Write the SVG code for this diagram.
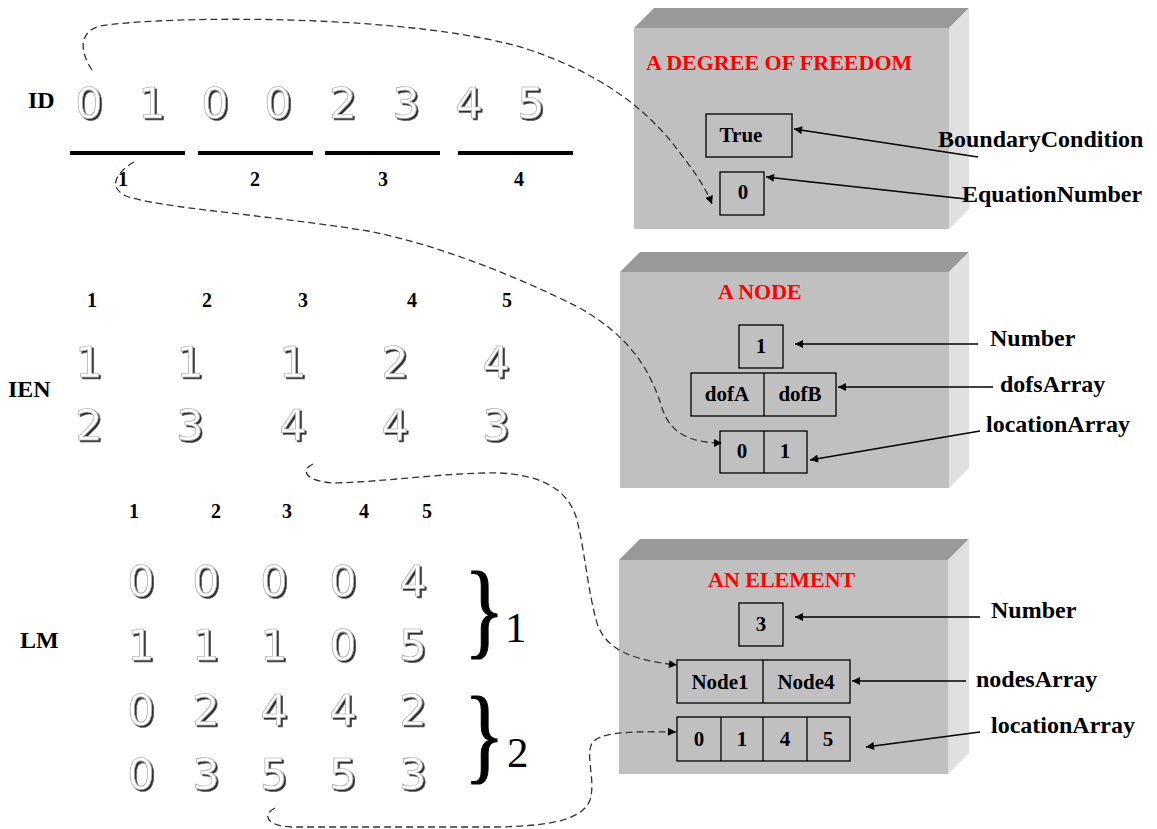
<svg xmlns="http://www.w3.org/2000/svg" width="1157" height="829" viewBox="0 0 1157 829">
  <defs>
    <style>
      .lbl { font-family: "Liberation Serif", "Times New Roman", serif; font-weight: bold; fill: #000; }
      .big { font-size: 24px; }
      .hdr { font-size: 20px; text-anchor: middle; }
      .title { font-family: "Liberation Serif", "Times New Roman", serif; font-weight: bold; font-size: 22px; fill: #ff0000; }
      .cell { font-family: "Liberation Serif", "Times New Roman", serif; font-weight: bold; font-size: 21px; text-anchor: middle; fill: #000; }
      .emb { font-family: "DejaVu Sans", "Liberation Sans", sans-serif; font-size: 43px; text-anchor: middle; fill: #fff; stroke: #9a9a9a; stroke-width: 0.6; filter: url(#shadow); }
      .front { fill: #c0c0c0; }
      .top { fill: #999999; }
      .side { fill: #e0e0e0; }
      .box { fill: none; stroke: #000; stroke-width: 1.3; }
      .bar { stroke: #000; stroke-width: 4; }
      .arrow { stroke: #000; stroke-width: 1.3; fill: none; marker-end: url(#head); }
      .dash { stroke: #333; stroke-width: 1.3; fill: none; stroke-dasharray: 7 4; }
      .dash-arrow { marker-end: url(#head); }
      .brace { font-family: "Liberation Serif", "Times New Roman", serif; font-size: 106px; fill: #000; stroke: #000; stroke-width: 1.2; }
      .brace-num { font-family: "Liberation Serif", "Times New Roman", serif; font-size: 43px; fill: #000; }
    </style>
    <filter id="shadow" x="-30%" y="-30%" width="180%" height="180%">
      <feDropShadow dx="1.8" dy="1.8" stdDeviation="0.5" flood-color="#000" flood-opacity="0.85"/>
    </filter>
    <marker id="head" viewBox="0 0 10 10" refX="10" refY="5" markerWidth="10" markerHeight="8" markerUnits="userSpaceOnUse" orient="auto">
      <path d="M0,0 L10,5 L0,10 z" fill="#000"/>
    </marker>
  </defs>

  <rect width="1157" height="829" fill="#fff"/>

  <!-- ID array -->
  <g id="id-array">
    <text class="lbl big" x="28" y="108">ID</text>
    <text class="emb" x="89" y="118">0</text>
    <text class="emb" x="152" y="118">1</text>
    <text class="emb" x="215" y="118">0</text>
    <text class="emb" x="278" y="118">0</text>
    <text class="emb" x="343" y="118">2</text>
    <text class="emb" x="406" y="118">3</text>
    <text class="emb" x="469" y="118">4</text>
    <text class="emb" x="531" y="118">5</text>
    <line class="bar" x1="70" y1="153" x2="185" y2="153"/>
    <line class="bar" x1="198" y1="153" x2="313" y2="153"/>
    <line class="bar" x1="325" y1="153" x2="440" y2="153"/>
    <line class="bar" x1="458" y1="153" x2="573" y2="153"/>
    <text class="lbl hdr" x="123" y="186">1</text>
    <text class="lbl hdr" x="255" y="186">2</text>
    <text class="lbl hdr" x="383" y="186">3</text>
    <text class="lbl hdr" x="519" y="186">4</text>
  </g>

  <!-- IEN table -->
  <g id="ien-table">
    <text class="lbl hdr" x="92" y="307">1</text>
    <text class="lbl hdr" x="207" y="307">2</text>
    <text class="lbl hdr" x="303" y="307">3</text>
    <text class="lbl hdr" x="412" y="307">4</text>
    <text class="lbl hdr" x="507" y="307">5</text>
    <text class="lbl big" x="8" y="397">IEN</text>
    <text class="emb" x="89" y="377">1</text>
    <text class="emb" x="190" y="377">1</text>
    <text class="emb" x="293" y="377">1</text>
    <text class="emb" x="395" y="377">2</text>
    <text class="emb" x="496" y="377">4</text>
    <text class="emb" x="89" y="440">2</text>
    <text class="emb" x="190" y="440">3</text>
    <text class="emb" x="293" y="440">4</text>
    <text class="emb" x="395" y="440">4</text>
    <text class="emb" x="496" y="440">3</text>
  </g>

  <!-- LM table -->
  <g id="lm-table">
    <text class="lbl hdr" x="134" y="518">1</text>
    <text class="lbl hdr" x="216" y="518">2</text>
    <text class="lbl hdr" x="287" y="518">3</text>
    <text class="lbl hdr" x="364" y="518">4</text>
    <text class="lbl hdr" x="427" y="518">5</text>
    <text class="lbl big" x="20" y="648">LM</text>
    <text class="emb" x="141" y="596">0</text>
    <text class="emb" x="206" y="596">0</text>
    <text class="emb" x="274" y="596">0</text>
    <text class="emb" x="343" y="596">0</text>
    <text class="emb" x="413" y="596">4</text>
    <text class="emb" x="141" y="660">1</text>
    <text class="emb" x="206" y="660">1</text>
    <text class="emb" x="274" y="660">1</text>
    <text class="emb" x="343" y="660">0</text>
    <text class="emb" x="413" y="660">5</text>
    <text class="emb" x="141" y="725">0</text>
    <text class="emb" x="206" y="725">2</text>
    <text class="emb" x="274" y="725">4</text>
    <text class="emb" x="343" y="725">4</text>
    <text class="emb" x="413" y="725">2</text>
    <text class="emb" x="141" y="789">0</text>
    <text class="emb" x="206" y="789">3</text>
    <text class="emb" x="274" y="789">5</text>
    <text class="emb" x="343" y="789">5</text>
    <text class="emb" x="413" y="789">3</text>
    <text class="brace" transform="translate(464,645) scale(0.8,1)">}</text>
    <text class="brace-num" x="505" y="642">1</text>
    <text class="brace" transform="translate(464,770) scale(0.8,1)">}</text>
    <text class="brace-num" x="507" y="767">2</text>
  </g>

  <!-- Degree of freedom object -->
  <g id="dof-box">
    <polygon class="top" points="634,28 654,8 969,8 949,28"/>
    <polygon class="side" points="949,28 969,8 969,209 949,229"/>
    <rect class="front" x="634" y="28" width="315" height="201"/>
    <text class="title" x="646" y="70">A DEGREE OF FREEDOM</text>
    <rect class="box" x="706" y="114" width="86" height="43"/>
    <text class="cell" x="741" y="142">True</text>
    <rect class="box" x="720" y="172" width="44" height="43"/>
    <text class="cell" x="743" y="199">0</text>
    <text class="lbl big" x="938" y="147">BoundaryCondition</text>
    <text class="lbl big" x="962" y="202">EquationNumber</text>
  </g>

  <!-- Node object -->
  <g id="node-box">
    <polygon class="top" points="620,272 640,252 969,252 949,272"/>
    <polygon class="side" points="949,272 969,252 969,468 949,488"/>
    <rect class="front" x="620" y="272" width="329" height="216"/>
    <text class="title" x="718" y="299">A NODE</text>
    <rect class="box" x="739" y="325" width="44" height="43"/>
    <text class="cell" x="761" y="353">1</text>
    <rect class="box" x="691" y="373" width="145" height="43"/>
    <line class="box" x1="764" y1="373" x2="764" y2="416"/>
    <text class="cell" x="727" y="401">dofA</text>
    <text class="cell" x="800" y="401">dofB</text>
    <rect class="box" x="720" y="431" width="87" height="42"/>
    <line class="box" x1="764" y1="431" x2="764" y2="473"/>
    <text class="cell" x="742" y="458">0</text>
    <text class="cell" x="785" y="458">1</text>
    <text class="lbl big" x="990" y="346">Number</text>
    <text class="lbl big" x="1000" y="392">dofsArray</text>
    <text class="lbl big" x="986" y="432">locationArray</text>
  </g>

  <!-- Element object -->
  <g id="element-box">
    <polygon class="top" points="619,560 640,539 969,539 948,560"/>
    <polygon class="side" points="948,560 969,539 969,753 948,774"/>
    <rect class="front" x="619" y="560" width="329" height="214"/>
    <text class="title" x="708" y="587">AN ELEMENT</text>
    <rect class="box" x="739" y="603" width="44" height="43"/>
    <text class="cell" x="761" y="631">3</text>
    <rect class="box" x="677" y="660" width="173" height="43"/>
    <line class="box" x1="763" y1="660" x2="763" y2="703"/>
    <text class="cell" x="720" y="689">Node1</text>
    <text class="cell" x="806" y="689">Node4</text>
    <rect class="box" x="677" y="717" width="173" height="44"/>
    <line class="box" x1="721" y1="717" x2="721" y2="761"/>
    <line class="box" x1="763" y1="717" x2="763" y2="761"/>
    <line class="box" x1="807" y1="717" x2="807" y2="761"/>
    <text class="cell" x="699" y="746">0</text>
    <text class="cell" x="742" y="746">1</text>
    <text class="cell" x="785" y="746">4</text>
    <text class="cell" x="828" y="746">5</text>
    <text class="lbl big" x="991" y="618">Number</text>
    <text class="lbl big" x="976" y="687">nodesArray</text>
    <text class="lbl big" x="991" y="733">locationArray</text>
  </g>

  <!-- Connectors -->
  <g id="connectors">
    <line class="arrow" x1="978" y1="157" x2="794" y2="129"/>
    <line class="arrow" x1="966" y1="199" x2="766" y2="177"/>
    <line class="arrow" x1="978" y1="344" x2="795" y2="344"/>
    <line class="arrow" x1="993" y1="387" x2="838" y2="387"/>
    <line class="arrow" x1="980" y1="431" x2="810" y2="460"/>
    <line class="arrow" x1="980" y1="617" x2="795" y2="617"/>
    <line class="arrow" x1="966" y1="681" x2="852" y2="681"/>
    <line class="arrow" x1="980" y1="732" x2="866" y2="747"/>

    <path class="dash dash-arrow" d="M92,70 C80,52 78,32 100,26 C170,15 420,14 530,50 C600,74 640,105 670,140 C692,168 705,186 712,204"/>
    <path class="dash dash-arrow" d="M134,162 C120,170 105,186 126,196 C160,208 260,214 368,231 C440,245 520,278 578,307 C628,335 650,368 662,408 C670,432 688,443 722,443"/>
    <path class="dash dash-arrow" d="M313,464 C300,470 305,481 333,483 C385,482 450,472 500,473 C542,475 569,490 577,520 C585,552 588,592 597,623 C606,650 632,660 677,665"/>
    <path class="dash dash-arrow" d="M275,808 C262,815 266,826 292,827 L497,827 C542,826 582,822 590,800 C596,780 585,756 592,743 C600,733 622,731 676,732"/>
  </g>
</svg>
